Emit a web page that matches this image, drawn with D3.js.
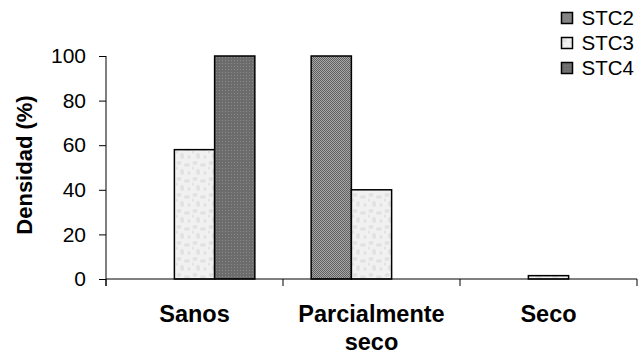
<!DOCTYPE html>
<html>
<head>
<meta charset="utf-8">
<script src="https://cdn.jsdelivr.net/npm/d3@7"></script>
<style>
  body { margin: 0; background: #fff; }
  text { font-family: Arial, "Liberation Sans", sans-serif; }
</style>
</head>
<body>
<div id="chart"></div>
<script>
const width = 639;
const height = 356;

const margin = { top: 56, left: 106, bottom: 77, right: 2 };

// data
const categories = ["Sanos", "Parcialmente seco", "Seco"];
const series = ["STC2", "STC3", "STC4"];
const stc2 = [0, 100, 0];
const stc3 = [58, 40, 1.5];
const stc4 = [100, 0, 0];
const yTicks = [0, 20, 40, 60, 80, 100];

const values = { STC2: stc2, STC3: stc3, STC4: stc4 };

const svg = d3.select("#chart").append("svg")
    .attr("width", width)
    .attr("height", height);

// fill patterns
const defs = svg.append("defs");

const p2 = defs.append("pattern").attr("id", "pSTC2")
    .attr("patternUnits", "userSpaceOnUse").attr("width", 2).attr("height", 2);
p2.append("rect").attr("width", 2).attr("height", 2).attr("fill", "#a8a8a8");
p2.append("rect").attr("width", 1).attr("height", 1).attr("fill", "#606060");
p2.append("rect").attr("x", 1).attr("y", 1).attr("width", 1).attr("height", 1).attr("fill", "#606060");

const p3 = defs.append("pattern").attr("id", "pSTC3")
    .attr("patternUnits", "userSpaceOnUse").attr("width", 16).attr("height", 16);
p3.append("rect").attr("width", 16).attr("height", 16).attr("fill", "#f1f1f1");
[[3, 3, 2.5, 2], [11, 5, 3, 1.8], [6, 12, 2, 3], [13, 13, 1.5, 2], [1, 8, 1.2, 1.6]].forEach(d => {
    p3.append("ellipse").attr("cx", d[0]).attr("cy", d[1]).attr("rx", d[2]).attr("ry", d[3]).attr("fill", "#e2e2e2");
});

const p4 = defs.append("pattern").attr("id", "pSTC4")
    .attr("patternUnits", "userSpaceOnUse").attr("width", 3).attr("height", 3);
p4.append("rect").attr("width", 3).attr("height", 3).attr("fill", "#6c6c6c");
p4.append("rect").attr("width", 1).attr("height", 1).attr("fill", "#8a8a8a");

const x0 = d3.scaleBand()
    .domain(categories)
    .range([margin.left, width - margin.right]);

const x1 = d3.scaleBand()
    .domain(series)
    .range([0, x0.bandwidth()])
    .paddingOuter(0.7);

const y = d3.scaleLinear()
    .domain([0, 100])
    .range([height - margin.bottom, margin.top]);

// bars
categories.forEach(function (cat, i) {
    series.forEach(function (s) {
        const v = values[s][i];
        if (v <= 0) return;
        svg.append("rect")
            .attr("x", x0(cat) + x1(s))
            .attr("y", y(v))
            .attr("width", x1.bandwidth())
            .attr("height", y(0) - y(v))
            .attr("fill", `url(#p${s})`)
            .attr("stroke", "#000")
            .attr("stroke-width", 1.5);
    });
});

// y axis
const yAxis = d3.axisLeft(y).tickValues(yTicks).tickSize(7).tickPadding(13);
const gy = svg.append("g")
    .attr("transform", `translate(${margin.left},0)`)
    .call(yAxis);
gy.selectAll("text")
    .style("font-size", "21px")
    .attr("fill", "#000");
gy.select(".domain").attr("d", `M0,${y(100)}V${y(0) + 7}`);

// x axis, ticks on category boundaries
const bounds = categories.map(c => x0(c)).concat([x0.range()[1]]);
const gx = svg.append("g");
gx.append("line")
    .attr("x1", x0.range()[0]).attr("x2", x0.range()[1])
    .attr("y1", y(0)).attr("y2", y(0))
    .attr("stroke", "#000");
gx.selectAll(".tk").data(bounds).join("line")
    .attr("x1", d => d).attr("x2", d => d)
    .attr("y1", y(0)).attr("y2", y(0) + 7)
    .attr("stroke", "#000");

// category labels
const labelLines = [["Sanos"], ["Parcialmente", "seco"], ["Seco"]];
categories.forEach(function (cat, i) {
    const cx = x0(cat) + x0.bandwidth() / 2;
    const t = svg.append("text")
        .attr("y", 322)
        .attr("text-anchor", "middle")
        .style("font-size", "23.5px")
        .style("font-weight", 700);
    labelLines[i].forEach((line, j) => {
        t.append("tspan")
            .attr("x", cx)
            .attr("dy", j === 0 ? 0 : 28)
            .text(line);
    });
});

// y title
svg.append("text")
    .attr("transform", `translate(32,165) rotate(-90)`)
    .attr("text-anchor", "middle")
    .style("font-size", "22px")
    .style("font-weight", 700)
    .text("Densidad (%)");

// legend
const legend = svg.append("g").attr("transform", "translate(561.5,12.5)");
series.forEach(function (s, i) {
    const row = legend.append("g").attr("transform", `translate(0,${i * 25})`);
    row.append("rect")
        .attr("width", 11).attr("height", 11)
        .attr("fill", `url(#p${s})`)
        .attr("stroke", "#000")
        .attr("stroke-width", 1.5);
    row.append("text")
        .attr("x", 20).attr("y", 12.5)
        .style("font-size", "20.5px")
        .text(s);
});
</script>
</body>
</html>
